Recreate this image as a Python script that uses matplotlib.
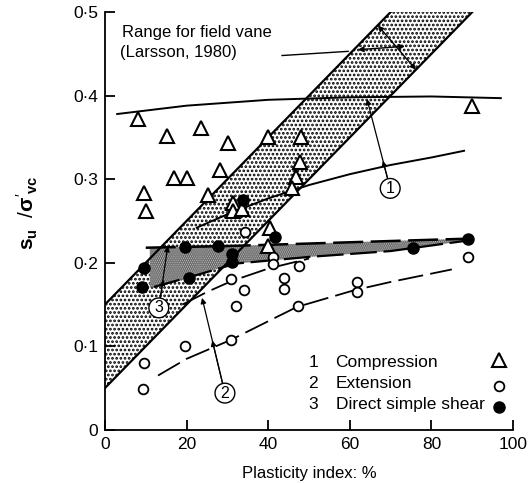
import numpy as np
import matplotlib
matplotlib.use("Agg")
import matplotlib.pyplot as plt

plt.rcParams['font.family'] = ['Liberation Sans', 'DejaVu Sans']
plt.rcParams['mathtext.fontset'] = 'custom'
plt.rcParams['mathtext.rm'] = 'Liberation Sans'
plt.rcParams['mathtext.it'] = 'Liberation Sans:italic'
plt.rcParams['mathtext.bf'] = 'Liberation Sans:bold'
plt.rcParams['hatch.linewidth'] = 1.3

# ---- data -------------------------------------------------------------
# Compression tests (triangles)
comp_pi = [8, 9.5, 10, 15.3, 16.8, 20, 23.5, 25.3, 28.2, 30.2, 31.4, 31.4, 33.5,
           40, 48, 47.8, 46.8, 45.8, 40.4, 40, 90]
comp_su = [0.372, 0.284, 0.262, 0.352, 0.301, 0.301, 0.361, 0.281, 0.311, 0.343,
           0.272, 0.262, 0.264, 0.350, 0.350, 0.320, 0.303, 0.290, 0.242, 0.220, 0.388]

# Extension tests (open circles)
ext_pi = [9.5, 9.4, 19.6, 31, 34, 32, 31, 34.3, 41.2, 41.2, 47.5, 43.9, 43.9,
          47.3, 61.8, 61.8, 89]
ext_su = [0.080, 0.049, 0.100, 0.180, 0.167, 0.148, 0.108, 0.237, 0.207, 0.198,
          0.196, 0.182, 0.168, 0.148, 0.177, 0.165, 0.207]

# Direct simple shear tests (filled circles)
dss_pi = [9.5, 9, 19.6, 20.6, 27.7, 31.2, 31.1, 33.8, 41.7, 75.5, 89]
dss_su = [0.194, 0.171, 0.219, 0.182, 0.220, 0.210, 0.201, 0.275, 0.231, 0.218, 0.229]

# Field vane range (Larsson, 1980): two parallel straight bounds
vane_pi = [0, 90]
vane_lower = [0.05, 0.50]
vane_upper = [0.15, 0.60]

# Compression trend curves
c1_up_pi = [3, 20, 40, 60, 80, 97]
c1_up_su = [0.378, 0.388, 0.395, 0.398, 0.399, 0.397]
c1_lo_pi = [22.5, 30, 40, 50, 60, 70, 80, 88]
c1_lo_su = [0.242, 0.258, 0.277, 0.293, 0.306, 0.317, 0.326, 0.334]

# Extension trend curves
e_up_pi = [19, 25, 31, 40, 50]
e_up_su = [0.150, 0.165, 0.178, 0.193, 0.205]
e_lo_pi = [13, 20, 31, 40, 47, 61, 70, 85]
e_lo_su = [0.065, 0.085, 0.108, 0.130, 0.147, 0.167, 0.177, 0.192]

# Direct simple shear band
d_up_pi = [10, 30, 50, 70, 90]
d_up_su = [0.218, 0.220, 0.223, 0.226, 0.229]
d_lo_pi = [12, 23, 32, 50, 70, 88]
d_lo_su = [0.171, 0.186, 0.199, 0.207, 0.214, 0.226]

x_ticks = [0, 20, 40, 60, 80, 100]
y_ticks = [0, 0.1, 0.2, 0.3, 0.4, 0.5]
y_tick_labels = ['0', '0·1', '0·2', '0·3', '0·4', '0·5']

legend_rows = [('1', 'Compression'), ('2', 'Extension'), ('3', 'Direct simple shear')]

# ---- figure -----------------------------------------------------------
fig = plt.figure(figsize=(5.30, 4.83), dpi=100)
ax = fig.add_axes([0.198, 0.110, 0.770, 0.865])
ax.set_xlim(0, 100)
ax.set_ylim(0, 0.5)

for s in ('top', 'right'):
    ax.spines[s].set_visible(False)
for s in ('left', 'bottom'):
    ax.spines[s].set_linewidth(1.3)

ax.set_xticks(x_ticks)
ax.set_yticks(y_ticks)
ax.set_yticklabels(y_tick_labels)
ax.tick_params(direction='in', length=7, width=1.3, labelsize=12.5, pad=5)

# field vane band
xv = np.linspace(vane_pi[0], vane_pi[1], 50)
lo = np.interp(xv, vane_pi, vane_lower)
up = np.interp(xv, vane_pi, vane_upper)
ax.fill_between(xv, lo, up, facecolor='white', edgecolor='black',
                hatch='....', linewidth=0, zorder=1)
ax.plot(vane_pi, vane_lower, color='black', lw=1.6, zorder=3)
ax.plot(vane_pi, vane_upper, color='black', lw=1.6, zorder=3)

# direct simple shear band (finer, greyer stipple)
xd = np.linspace(11, 89, 80)
d_up = np.interp(xd, d_up_pi, d_up_su)
d_lo = np.interp(xd, d_lo_pi, d_lo_su)
ax.fill_between(xd, d_lo, d_up, facecolor='#c4c4c4', edgecolor='#555555',
                hatch='........', linewidth=0, zorder=2)
dash = (12, 3)
ax.plot(d_up_pi, d_up_su, color='black', lw=1.8, dashes=dash, zorder=3)
ax.plot(d_lo_pi, d_lo_su, color='black', lw=1.6, dashes=dash, zorder=3)

# compression curves
ax.plot(c1_up_pi, c1_up_su, color='black', lw=1.4, zorder=3)
ax.plot(c1_lo_pi, c1_lo_su, color='black', lw=1.4, zorder=3)

# extension curves
ax.plot(e_up_pi, e_up_su, color='black', lw=1.3, dashes=(14, 4), zorder=3)
ax.plot(e_lo_pi, e_lo_su, color='black', lw=1.3, dashes=(14, 4), zorder=3)

# data points
ax.plot(comp_pi, comp_su, ls='none', marker='^', ms=10, mfc='white',
        mec='black', mew=1.5, zorder=5)
ax.plot(ext_pi, ext_su, ls='none', marker='o', ms=7, mfc='white',
        mec='black', mew=1.3, zorder=5)
ax.plot(dss_pi, dss_su, ls='none', marker='o', ms=8, mfc='black',
        mec='black', zorder=5)

# numbered circle labels with arrows to the curves
arrow_kw = dict(arrowstyle='-|>', color='black', lw=0.9, mutation_scale=8,
                shrinkA=0, shrinkB=0)
circle_box = dict(boxstyle='circle,pad=0.15', fc='white', ec='black', lw=1.0)

def label_with_arrows(txt, at, targets):
    for tgt in targets:
        ax.annotate('', xy=tgt, xytext=at, arrowprops=dict(arrow_kw, patchA=None),
                    zorder=6)
    ax.text(at[0], at[1], txt, ha='center', va='center', fontsize=11.5,
            bbox=circle_box, zorder=7)

label_with_arrows('1', (69.9, 0.289), [(68.1, 0.322), (64.2, 0.396)])
label_with_arrows('2', (29.4, 0.044), [(26.3, 0.107), (23.8, 0.158)])
label_with_arrows('3', (13.2, 0.146), [(14.3, 0.180), (15.4, 0.220)])

# field vane annotation
ax.text(4.2, 0.476, 'Range for field vane', fontsize=12, va='center')
ax.text(3.8, 0.452, '(Larsson, 1980)', fontsize=12, va='center')
ax.plot([43.4, 59.6], [0.448, 0.453], color='black', lw=1.0)
ax.annotate('', xy=(73.5, 0.459), xytext=(62.0, 0.455),
            arrowprops=dict(arrowstyle='<|-|>', color='black', lw=1.0,
                            mutation_scale=8, shrinkA=0, shrinkB=0))
ax.annotate('', xy=(76.2, 0.431), xytext=(66.9, 0.484),
            arrowprops=dict(arrowstyle='<|-|>', color='black', lw=1.0,
                            mutation_scale=8, shrinkA=0, shrinkB=0))

# legend
leg_y = [0.081, 0.056, 0.030]
leg_marks = [dict(marker='^', ms=10, mfc='white', mec='black', mew=1.5),
             dict(marker='o', ms=7, mfc='white', mec='black', mew=1.3),
             dict(marker='o', ms=8, mfc='black', mec='black')]
for (num, name), yy, mk in zip(legend_rows, leg_y, leg_marks):
    ax.text(51.0, yy, num, fontsize=12.5, va='center', ha='center')
    ax.text(56.5, yy, name, fontsize=12.5, va='center')
    ax.plot([96.6], [yy + 0.003 if mk['marker'] == '^' else yy - 0.003],
            ls='none', **mk)

ax.set_xlabel('Plasticity index: %', fontsize=12, labelpad=10)
ax.set_ylabel(r"$\mathbf{s_u}\ \ /\mathbf{\sigma}'_{\mathbf{vc}}$", fontsize=15)
ax.yaxis.set_label_coords(-0.16, 0.52)

fig.savefig('out.png', dpi=100)
